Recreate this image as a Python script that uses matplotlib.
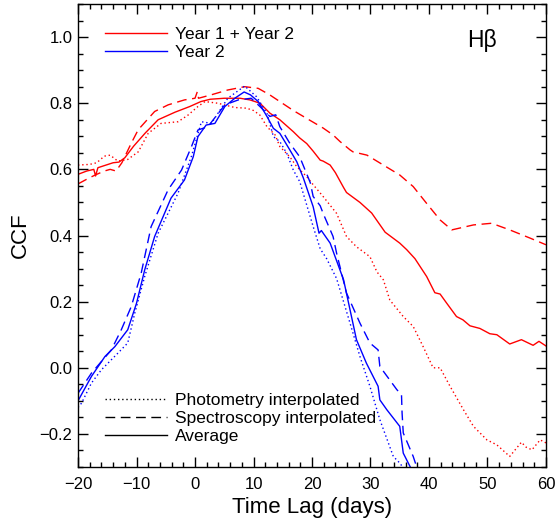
import matplotlib
matplotlib.use("Agg")
import matplotlib.pyplot as plt
from matplotlib.lines import Line2D
from matplotlib.ticker import MultipleLocator

plt.rcParams['font.family'] = ['Liberation Sans', 'DejaVu Sans']

# Year 1 + Year 2 (red)
red_avg_lag = [-20, -18.5, -17.3, -17.0, -16.6, -14, -13, -12, -10.5, -8.5, -6.3, -3.4, -0.9, 1, 2.6, 5,
               7.7, 9.4, 11.1, 12.8, 14.5, 16.8, 17.9, 19.1, 20.2, 21.4, 21.9, 23.1, 24.0, 25.4, 25.9, 28.2,
               30.2, 32.5, 35, 36.2, 37.6, 39.6, 41, 41.9, 43, 44.7, 45.8, 47, 48.7, 50.4, 51.6,
               53.8, 55.8, 57.8, 58.8, 60]
red_avg_ccf = [0.585, 0.595, 0.600, 0.580, 0.605, 0.620, 0.622, 0.635, 0.670, 0.710, 0.750, 0.773, 0.790,
               0.805, 0.812, 0.815, 0.815, 0.810, 0.800, 0.770, 0.750, 0.714, 0.695, 0.678, 0.655, 0.628,
               0.625, 0.613, 0.590, 0.545, 0.530, 0.500, 0.468, 0.410, 0.377, 0.357, 0.330, 0.276, 0.227,
               0.223, 0.196, 0.155, 0.145, 0.127, 0.119, 0.103, 0.100, 0.072, 0.085, 0.068, 0.080, 0.066]

red_spec_lag = [-20, -18, -16.8, -15.5, -14.5, -13.5, -12.5, -10.9, -9.7, -6.9, -4.6, -1.8, 0, 0.4, 0.6,
                2.7, 5.6, 8.5, 10.8, 12.8, 14.5, 16.8, 19.0, 21.9, 23.6, 24.8, 26.5, 27.0, 29.4, 32.2,
                35, 37.3, 39.6, 41.9, 43.9, 47.6, 50.7, 53.8, 57.3, 60]
red_spec_ccf = [0.556, 0.575, 0.585, 0.595, 0.600, 0.595, 0.620, 0.679, 0.720, 0.775, 0.795, 0.810, 0.815,
                0.835, 0.815, 0.825, 0.840, 0.850, 0.845, 0.825, 0.805, 0.778, 0.755, 0.725, 0.704, 0.684,
                0.659, 0.653, 0.643, 0.613, 0.583, 0.548, 0.497, 0.447, 0.417, 0.432, 0.437, 0.417, 0.392,
                0.372]

red_phot_lag = [-20, -18, -16.8, -15.5, -14.5, -13.2, -11.5, -9.7, -8, -5.8, -2.9, -1.2, 0.5, 1.7, 3.9,
                6.8, 8.8, 10, 11.1, 12.3, 13.7, 14.5, 16.2, 17.4, 19.1, 19.9, 21.9, 24.2, 25.9, 27.6,
                29.9, 31.1, 32.2, 33.3, 35.6, 37.3, 39, 40.7, 41.9, 43.6, 45.9, 47.6, 49.9, 51.6, 53.8,
                55.8, 56.6, 57.6, 59, 60]
red_phot_ccf = [0.613, 0.615, 0.620, 0.640, 0.643, 0.625, 0.630, 0.653, 0.709, 0.739, 0.744, 0.764, 0.790,
                0.805, 0.800, 0.787, 0.785, 0.778, 0.764, 0.729, 0.704, 0.669, 0.638, 0.608, 0.578, 0.560,
                0.518, 0.467, 0.397, 0.366, 0.336, 0.290, 0.266, 0.205, 0.155, 0.125, 0.064, 0.000, 0.000,
                -0.056, -0.127, -0.177, -0.218, -0.233, -0.268, -0.225, -0.240, -0.248, -0.218, -0.227]

# Year 2 (blue)
blue_avg_lag = [-20, -17.7, -15.4, -13.7, -11.5, -10, -8.6, -6.9, -4.1, -1.8, -0.3, 0.5, 1.9, 3.4, 5.1,
                6.8, 8.4, 9.5, 10.8, 12.3, 13.4, 14.5, 16.2, 17.4, 18.5, 20.2, 21.2, 21.6, 23.1, 25.4,
                27.6, 29.3, 31.3, 31.6, 32.8, 35, 35.6, 36.8]
blue_avg_ccf = [-0.100, -0.026, 0.034, 0.064, 0.115, 0.195, 0.296, 0.397, 0.513, 0.568, 0.638, 0.699,
                0.734, 0.739, 0.790, 0.815, 0.834, 0.825, 0.805, 0.760, 0.724, 0.709, 0.659, 0.623, 0.575,
                0.487, 0.407, 0.415, 0.377, 0.266, 0.085, 0.014, -0.056, -0.097, -0.127, -0.177, -0.258,
                -0.300]

blue_spec_lag = [-20, -17.7, -14.3, -12.6, -10.9, -9.2, -7.5, -4.6, -2.3, -0.6, 0.5, 2.2, 5.1, 7.4, 9.6,
                 11.1, 12.8, 13.8, 14.5, 16.2, 17.9, 19.7, 20.2, 21.4, 21.9, 23.6, 24.2, 25.9, 28.2, 29.9,
                 31.3, 31.6, 34.5, 35.3, 35.4, 35.6, 37.3, 37.9]
blue_spec_ccf = [-0.077, -0.016, 0.054, 0.115, 0.185, 0.286, 0.427, 0.538, 0.598, 0.669, 0.719, 0.729,
                 0.795, 0.810, 0.815, 0.790, 0.760, 0.765, 0.729, 0.679, 0.638, 0.560, 0.518, 0.490, 0.467,
                 0.397, 0.347, 0.226, 0.135, 0.075, 0.054, 0.004, -0.066, -0.082, -0.137, -0.197, -0.268,
                 -0.300]

blue_phot_lag = [-20, -19.4, -17.7, -16, -13.2, -11.5, -10.3, -8.6, -6.3, -2.9, -0.6, 1.1, 2.8, 5.6, 8.5,
                 10.5, 12.3, 13.4, 14.5, 15.7, 16.8, 17.9, 20.2, 21.4, 22.5, 24.2, 26.5, 28.2, 29.9, 31.6,
                 33.9, 35, 35.5]
blue_phot_ccf = [-0.120, -0.107, -0.046, -0.006, 0.044, 0.075, 0.165, 0.276, 0.407, 0.528, 0.640, 0.744,
                 0.739, 0.815, 0.852, 0.820, 0.770, 0.699, 0.684, 0.648, 0.598, 0.563, 0.427, 0.360, 0.330,
                 0.270, 0.135, 0.034, -0.056, -0.157, -0.268, -0.288, -0.300]

dash = (0, (7, 4))
dot = (0, (1, 2))

fig = plt.figure(figsize=(5.56, 5.20), dpi=100)
ax = fig.add_axes([0.1403, 0.1019, 0.8417, 0.8904])

lw = 1.0
ax.plot(red_avg_lag, red_avg_ccf, color='red', lw=lw)
ax.plot(red_spec_lag, red_spec_ccf, color='red', lw=lw, linestyle=dash)
ax.plot(red_phot_lag, red_phot_ccf, color='red', lw=lw, linestyle=dot)
ax.plot(blue_avg_lag, blue_avg_ccf, color='blue', lw=lw)
ax.plot(blue_spec_lag, blue_spec_ccf, color='blue', lw=lw, linestyle=dash)
ax.plot(blue_phot_lag, blue_phot_ccf, color='blue', lw=lw, linestyle=dot)

ax.set_xlim(-20, 60)
ax.set_ylim(-0.3, 1.1)
ax.xaxis.set_major_locator(MultipleLocator(10))
ax.xaxis.set_minor_locator(MultipleLocator(2))
ax.yaxis.set_major_locator(MultipleLocator(0.2))
ax.yaxis.set_minor_locator(MultipleLocator(0.05))
ax.tick_params(which='both', direction='in', top=True, right=True, width=1.0, labelsize=12)
ax.tick_params(which='major', length=7)
ax.tick_params(which='minor', length=3.5)
ax.tick_params(axis='x', which='major', pad=7)
ax.tick_params(axis='y', which='major', pad=4)
for s in ax.spines.values():
    s.set_linewidth(1.0)

ax.set_xlabel('Time Lag (days)', fontsize=16, labelpad=4)
ax.set_ylabel('CCF', fontsize=16, labelpad=6)

# legends
h1 = [Line2D([], [], color='red', lw=lw), Line2D([], [], color='blue', lw=lw)]
leg1 = ax.legend(h1, ['Year 1 + Year 2', 'Year 2'], loc='upper left', bbox_to_anchor=(0.057, 0.950),
                 frameon=False, fontsize=12.5, handlelength=3.6, handletextpad=0.45, labelspacing=0.15,
                 borderpad=0, borderaxespad=0)
ax.add_artist(leg1)
h2 = [Line2D([], [], color='black', lw=lw, linestyle=dot),
      Line2D([], [], color='black', lw=lw, linestyle=dash),
      Line2D([], [], color='black', lw=lw)]
ax.legend(h2, ['Photometry interpolated', 'Spectroscopy interpolated', 'Average'], loc='upper left',
          bbox_to_anchor=(0.057, 0.160), frameon=False, fontsize=12.5, handlelength=3.6,
          handletextpad=0.45, labelspacing=0.15, borderpad=0, borderaxespad=0)

ax.text(0.863, 0.922, 'Hβ', transform=ax.transAxes, fontsize=16.5, ha='center', va='center')

fig.savefig('out.png', dpi=100)
